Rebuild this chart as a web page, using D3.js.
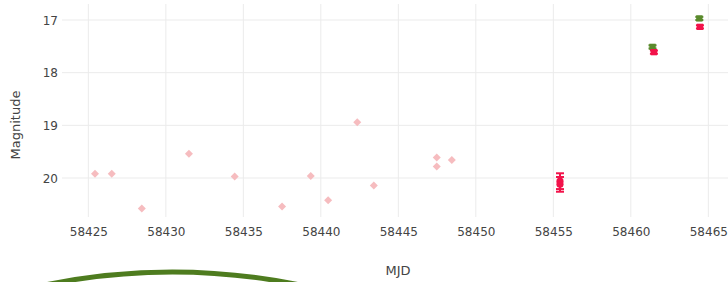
<!DOCTYPE html>
<html lang="en">
<head>
  <meta charset="UTF-8">
  <title>Light curve</title>
  <script src="https://d3js.org/d3.v7.min.js"></script>
  <style>
    body { margin: 0; background: #fff; }
    .grid line { stroke: #ebebeb; stroke-width: 1; }
    .axis text { font-family: "DejaVu Sans", Verdana, sans-serif; font-size: 12px; fill: #444; }
    .axis path, .axis line { display: none; }
    .title { font-family: "DejaVu Sans", Verdana, sans-serif; font-size: 13px; fill: #444; }
  </style>
</head>
<body>
  <div id="chart"></div>
  <script>
    // upper limits (faint diamonds)
    const limMjd = [58425.43, 58426.51, 58428.45, 58431.49, 58434.44, 58437.50, 58439.35,
                    58440.47, 58442.35, 58443.42, 58447.48, 58447.48, 58448.45];
    const limMag = [19.92, 19.92, 20.58, 19.54, 19.97, 20.54, 19.96,
                    20.42, 18.94, 20.14, 19.61, 19.78, 19.66];

    // detections, r band (red)
    const rMjd = [58455.43, 58455.43, 58461.49, 58464.46];
    const rMag = [20.06, 20.12, 17.61, 17.13];
    const rErr = [0.15, 0.14, 0.03, 0.03];
    // detections, g band (green)
    const gMjd = [58461.40, 58464.42];
    const gMag = [17.51, 16.97];
    const gErr = [0.03, 0.03];

    const xTicks = [58425, 58430, 58435, 58440, 58445, 58450, 58455, 58460, 58465];
    const yTicks = [17, 18, 19, 20];

    const W = 728, H = 282;
    const svg = d3.select("#chart").append("svg")
      .attr("width", W).attr("height", H);

    const x = d3.scaleLinear().domain([58423.3, 58466.27]).range([62, 728]);
    const y = d3.scaleLinear().domain([16.696, 20.74]).range([4, 217]);

    // gridlines
    svg.append("g").attr("class", "grid")
      .selectAll("line").data(xTicks).enter().append("line")
      .attr("x1", d => x(d)).attr("x2", d => x(d))
      .attr("y1", 4).attr("y2", 217);
    svg.append("g").attr("class", "grid")
      .selectAll("line").data(yTicks).enter().append("line")
      .attr("x1", 62).attr("x2", 728)
      .attr("y1", d => y(d)).attr("y2", d => y(d));

    // axes
    svg.append("g").attr("class", "axis")
      .attr("transform", "translate(0,223)")
      .call(d3.axisBottom(x).tickValues(xTicks).tickFormat(d3.format("d")).tickSize(0).tickPadding(4));
    svg.append("g").attr("class", "axis")
      .attr("transform", "translate(58,0)")
      .call(d3.axisLeft(y).tickValues(yTicks).tickFormat(d3.format("d")).tickSize(0).tickPadding(0))
      .selectAll("text").attr("dy", "0.35em");

    svg.append("text").attr("class", "title")
      .attr("transform", "translate(20,125) rotate(-90)")
      .attr("text-anchor", "middle")
      .text("Magnitude");
    svg.append("text").attr("class", "title")
      .attr("x", 398).attr("y", 275)
      .attr("text-anchor", "middle")
      .text("MJD");

    // green arc at the bottom
    svg.append("path")
      .attr("d", "M40,286 Q172,258 305,286")
      .attr("fill", "none")
      .attr("stroke", "#4e7c1f")
      .attr("stroke-width", 5);

    // upper-limit diamonds
    const lim = limMjd.map((d, i) => ({ mjd: d, mag: limMag[i] }));
    svg.append("g").selectAll("path").data(lim).enter().append("path")
      .attr("transform", d => `translate(${x(d.mjd)},${y(d.mag)})`)
      .attr("d", "M0,-4L4,0L0,4L-4,0Z")
      .attr("fill", "#f6bcbf");

    function drawBand(mjd, mag, err, color, shape) {
      const pts = mjd.map((d, i) => ({ mjd: d, mag: mag[i], err: err[i] }));
      const g = svg.append("g");
      const eb = g.selectAll(".eb").data(pts).enter().append("g")
        .attr("stroke", color).attr("stroke-width", 2);
      eb.append("line")
        .attr("x1", d => x(d.mjd)).attr("x2", d => x(d.mjd))
        .attr("y1", d => y(d.mag - d.err)).attr("y2", d => y(d.mag + d.err));
      eb.append("line")
        .attr("x1", d => x(d.mjd) - 4).attr("x2", d => x(d.mjd) + 4)
        .attr("y1", d => y(d.mag - d.err)).attr("y2", d => y(d.mag - d.err));
      eb.append("line")
        .attr("x1", d => x(d.mjd) - 4).attr("x2", d => x(d.mjd) + 4)
        .attr("y1", d => y(d.mag + d.err)).attr("y2", d => y(d.mag + d.err));
      g.selectAll(".m").data(pts).enter().append("path")
        .attr("transform", d => `translate(${x(d.mjd)},${y(d.mag)})`)
        .attr("d", d3.symbol().type(shape).size(40))
        .attr("fill", color);
    }

    drawBand(gMjd, gMag, gErr, "#5a8a2c", d3.symbolSquare);
    drawBand(rMjd.slice(2), rMag.slice(2), rErr.slice(2), "#f2124a", d3.symbolSquare);
    drawBand(rMjd.slice(0, 2), rMag.slice(0, 2), rErr.slice(0, 2), "#f2124a", d3.symbolCircle);
  </script>
</body>
</html>
